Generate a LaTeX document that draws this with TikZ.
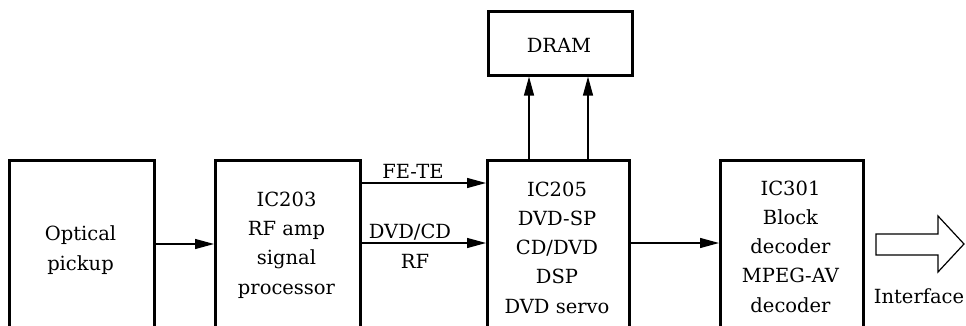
\documentclass[tikz,border=0pt]{standalone}
\usepackage{fontspec}
\setmainfont{DejaVu Serif}
\usetikzlibrary{arrows.meta}
\begin{document}
\begin{tikzpicture}[x=1pt,y=1pt,
  box/.style={draw, line width=2.6pt, rectangle, inner sep=0pt, anchor=north west},
  txt/.style={align=center, font=\fontsize{19.5}{29.2}\selectfont, anchor=base, inner sep=0pt},
  arr/.style={line width=1.3pt, -{Triangle[length=19pt,width=10pt]}}]
\useasboundingbox (0,-326) rectangle (966,0);
\clip (0,-326) rectangle (966,0);
% boxes
\node[box, minimum width=145pt, minimum height=200pt] (opt) at (8,-159) {};
\node[box, minimum width=145pt, minimum height=200pt] (rf) at (214,-159) {};
\node[box, minimum width=142pt, minimum height=200pt] (dsp) at (486,-159) {};
\node[box, minimum width=143pt, minimum height=200pt] (dec) at (719,-159) {};
\node[box, minimum width=144pt, minimum height=64pt] (dram) at (487,-10) {};
% box texts (anchor = baseline of last line)
\node[txt] (optT) at (80.5,-270) {Optical\\pickup};
\node[txt] (rfT) at (286.5,-294) {IC203\\RF amp\\signal\\processor};
\node[txt] (dspT) at (557,-313) {IC205\\DVD-SP\\CD/DVD\\DSP\\DVD servo};
\node[txt] (decT) at (790.5,-312) {IC301\\Block\\decoder\\MPEG-AV\\decoder};
\node[txt] (dramT) at (559,-53) {DRAM};
% connector labels
\node[txt] (feL) at (413,-178) {FE-TE};
\node[txt] (dvdL) at (410,-238) {DVD/CD};
\node[txt] (rfL) at (415,-268) {RF};
\node[txt] (ifL) at (919,-303) {Interface};
% helper coordinates
\coordinate (y1) at (0,-244);
\coordinate (y2) at (0,-183);
\coordinate (y3) at (0,-243);
\coordinate (x1) at (529,0);
\coordinate (x2) at (588,0);
% connectors
\draw[arr] (opt.east |- y1) -- (rf.west |- y1);
\draw[arr] (rf.east |- y2) -- (dsp.west |- y2);
\draw[arr] (rf.east |- y3) -- (dsp.west |- y3);
\draw[arr] (dsp.east |- y3) -- (dec.west |- y3);
\draw[arr] (x1 |- dsp.north) -- (x1 |- dram.south);
\draw[arr] (x2 |- dsp.north) -- (x2 |- dram.south);
% hollow interface arrow
\draw[line width=1.2pt, line join=miter] (876,-234) -- (938,-234) -- (938,-216) -- (964,-244)
  -- (938,-272) -- (938,-255) -- (876,-255) -- cycle;
\end{tikzpicture}
\end{document}
